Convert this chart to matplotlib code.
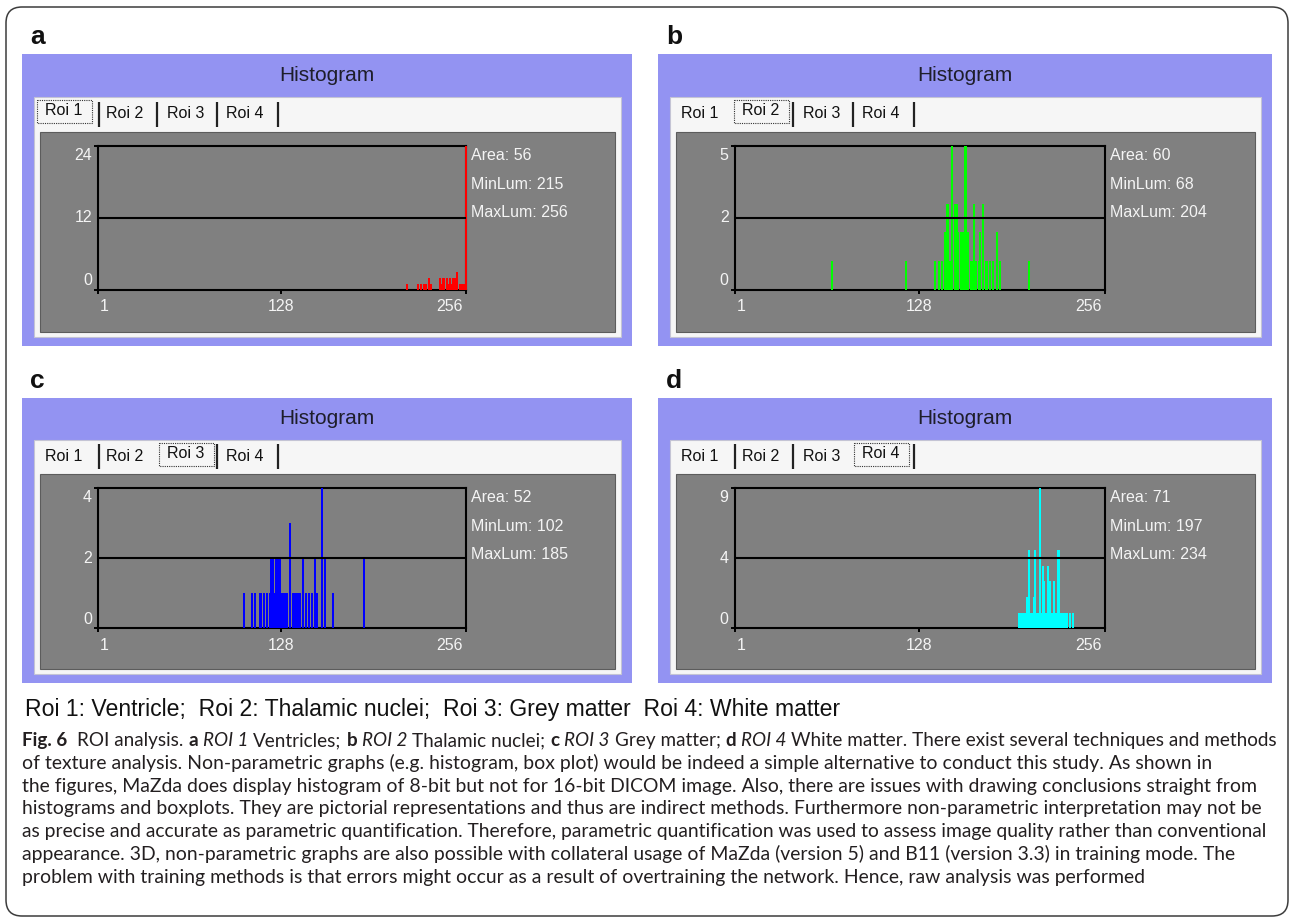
import matplotlib
matplotlib.use('Agg')
import matplotlib.pyplot as plt
from matplotlib.patches import Rectangle, FancyBboxPatch

plt.rcParams['font.family'] = ['Liberation Sans', 'DejaVu Sans']

W, H = 1290, 918

# grey level of each non-empty bin and its pixel count, one pair of lists per ROI
roi1_bins = [215, 223, 225, 227, 228, 230, 232, 238, 239, 240, 241, 243, 244,
             245, 246, 247, 248, 250, 252, 253, 254, 255, 256]
roi1_counts = [1, 1, 1, 1, 1, 2, 1, 2, 1, 2, 2, 2, 1, 2, 1, 2, 2, 3, 1, 1, 1, 1, 24]

roi2_bins = [68, 119, 139, 142, 144, 146, 147, 148, 149, 151, 153, 154, 155, 157,
             158, 160, 161, 162, 164, 165, 166, 167, 169, 170, 172, 174, 175, 177,
             179, 182, 184, 204]
roi2_counts = [1, 1, 1, 1, 1, 2, 3, 3, 1, 5, 3, 3, 2, 2, 2, 5, 2, 2, 1, 1, 3, 1,
               1, 2, 3, 1, 1, 1, 1, 2, 1, 1]

roi3_bins = [102, 108, 110, 113, 114, 116, 118, 120, 121, 122, 123, 124, 125, 126,
             127, 128, 129, 130, 131, 132, 134, 136, 137, 138, 139, 140, 141, 143,
             145, 147, 149, 151, 153, 156, 158, 164, 185]
roi3_counts = [1, 1, 1, 1, 1, 1, 1, 1, 2, 2, 1, 2, 2, 2, 2, 1, 1, 1, 1, 1, 3, 1,
               1, 1, 1, 1, 1, 2, 1, 1, 1, 2, 1, 4, 2, 1, 2]

roi4_bins = [197, 198, 199, 200, 201, 202, 203, 204, 205, 206, 207, 208, 209, 210,
             211, 212, 213, 214, 215, 216, 217, 218, 219, 220, 221, 222, 223, 224,
             225, 226, 227, 228, 229, 230, 232, 234]
roi4_counts = [1, 1, 1, 1, 1, 2, 2, 5, 1, 1, 2, 5, 1, 1, 9, 1, 4, 3, 1, 1, 4, 3,
               1, 1, 3, 1, 1, 5, 1, 1, 1, 1, 1, 1, 1, 1]

tab_names = ['Roi 1', 'Roi 2', 'Roi 3', 'Roi 4']
legend_text = 'Roi 1: Ventricle;  Roi 2: Thalamic nuclei;  Roi 3: Grey matter  Roi 4: White matter'

caption_lines = [
    [('Fig. 6', 'bold', 'normal'), ('  ROI analysis. ', 'normal', 'normal'),
     ('a', 'bold', 'normal'), (' ', 'normal', 'normal'), ('ROI 1', 'normal', 'italic'),
     (' Ventricles; ', 'normal', 'normal'),
     ('b', 'bold', 'normal'), (' ', 'normal', 'normal'), ('ROI 2', 'normal', 'italic'),
     (' Thalamic nuclei; ', 'normal', 'normal'),
     ('c', 'bold', 'normal'), (' ', 'normal', 'normal'), ('ROI 3', 'normal', 'italic'),
     (' Grey matter; ', 'normal', 'normal'),
     ('d', 'bold', 'normal'), (' ', 'normal', 'normal'), ('ROI 4', 'normal', 'italic'),
     (' White matter. There exist several techniques and methods', 'normal', 'normal')],
    [('of texture analysis. Non-parametric graphs (e.g. histogram, box plot) would be '
      'indeed a simple alternative to conduct this study. As shown in', 'normal', 'normal')],
    [('the figures, MaZda does display histogram of 8-bit but not for 16-bit DICOM image. '
      'Also, there are issues with drawing conclusions straight from', 'normal', 'normal')],
    [('histograms and boxplots. They are pictorial representations and thus are indirect '
      'methods. Furthermore non-parametric interpretation may not be', 'normal', 'normal')],
    [('as precise and accurate as parametric quantification. Therefore, parametric '
      'quantification was used to assess image quality rather than conventional', 'normal', 'normal')],
    [('appearance. 3D, non-parametric graphs are also possible with collateral usage of '
      'MaZda (version 5) and B11 (version 3.3) in training mode. The', 'normal', 'normal')],
    [('problem with training methods is that errors might occur as a result of '
      'overtraining the network. Hence, raw analysis was performed', 'normal', 'normal')],
]

FRAME_BLUE = '#9393f2'
STRIP = '#f6f6f6'
GRAY = '#808080'
LIGHT = '#f4f4f4'
INK = '#231f20'
CAPTION_FONT = 'Lato'

TAB_CENTERS = [41.7, 103, 164, 223]
TAB_SEPS = [77.4, 135, 195, 256]

fig = plt.figure(figsize=(W / 100, H / 100), dpi=100)
bg = fig.add_axes([0, 0, 1, 1])
bg.set_xlim(0, W)
bg.set_ylim(H, 0)
bg.axis('off')
renderer = fig.canvas.get_renderer()

bg.add_patch(FancyBboxPatch((6, 7), 1282, 909, boxstyle='round,pad=0,rounding_size=16',
                            facecolor='none', edgecolor='#3c3c3c', lw=1.1))


def panel(letter, box, sel, bins, counts, color):
    left, top, w, h = box
    X = lambda f: left + f * w
    Y = lambda f: top + f * h

    bg.text(left + 8, top - 17, letter, fontsize=19, fontweight='bold',
            ha='left', va='center', color='#111111')
    bg.add_patch(Rectangle((left, top), w, h, facecolor=FRAME_BLUE, edgecolor='none'))
    bg.text(X(0.5), Y(0.072), 'Histogram', fontsize=15, ha='center', va='center',
            color='#1e1e2a')
    bg.add_patch(Rectangle((X(0.0197), Y(0.147)), X(0.982) - X(0.0197), Y(0.969) - Y(0.147),
                           facecolor=STRIP, edgecolor='#c4c4d4', lw=0.8))
    bg.add_patch(Rectangle((X(0.0295), Y(0.267)), X(0.972) - X(0.0295), Y(0.952) - Y(0.267),
                           facecolor=GRAY, edgecolor='#5c5c5c', lw=0.8))

    # tab strip
    for i, name in enumerate(tab_names):
        cx = left + TAB_CENTERS[i]
        dy = -3 if i == sel else 0
        bg.text(cx, Y(0.205) + dy, name, fontsize=11.5, ha='center', va='center',
                color='#111111')
        if i == sel:
            bg.add_patch(Rectangle((cx - 27, Y(0.158)), 55, Y(0.238) - Y(0.158), fill=False,
                                   ls=(0, (1, 1)), lw=0.8, ec='#333333'))
        if i != sel - 1:
            sx = left + TAB_SEPS[i]
            bg.plot([sx, sx], [Y(0.163), Y(0.25)], color='#222222', lw=1.6,
                    solid_capstyle='butt')

    # histogram axes
    x0, x1 = X(0.1246), X(0.728)
    y0, y1 = Y(0.315), Y(0.808)
    ax = fig.add_axes([x0 / W, 1 - y1 / H, (x1 - x0) / W, (y1 - y0) / H])
    ax.set_facecolor(GRAY)
    ymax = max(counts)
    ax.bar(bins, counts, width=1.4, color=color, linewidth=0, zorder=3,
           antialiased=False, clip_on=False)
    ax.axhline(ymax / 2, color='k', lw=1.5, zorder=4)
    ax.set_xlim(1, 256)
    ax.set_ylim(0, ymax)
    ax.set_xticks([1, 128, 256])
    ax.set_yticks([0, ymax])
    ax.tick_params(length=3, width=1.4, color='k', labelbottom=False, labelleft=False)
    for s in ax.spines.values():
        s.set_linewidth(1.5)
        s.set_color('k')

    lab = dict(fontsize=11.5, color=LIGHT, textcoords='offset pixels', annotation_clip=False)
    for v, ha, dx in ((1, 'left', 2), (128, 'center', 0), (256, 'right', -3)):
        ax.annotate(str(v), xy=(v, 0), xycoords=('data', 'axes fraction'),
                    xytext=(dx, -17), ha=ha, va='center', **lab)
    ax.annotate(str(ymax), xy=(0, 1), xycoords='axes fraction', xytext=(-6, -10),
                ha='right', va='center', **lab)
    ax.annotate(str(ymax // 2), xy=(0, 0.5), xycoords='axes fraction', xytext=(-6, 0),
                ha='right', va='center', **lab)
    ax.annotate('0', xy=(0, 0), xycoords='axes fraction', xytext=(-6, 9),
                ha='right', va='center', **lab)

    info = [f'Area: {sum(counts)}', f'MinLum: {min(bins)}', f'MaxLum: {max(bins)}']
    for k, s in enumerate(info):
        ax.annotate(s, xy=(1, 1), xycoords='axes fraction', xytext=(5, -10 - 28.5 * k),
                    ha='left', va='center', **lab)


panel('a', (22, 54, 610, 292), 0, roi1_bins, roi1_counts, '#ff0000')
panel('b', (658, 54, 614, 292), 1, roi2_bins, roi2_counts, '#00ff00')
panel('c', (22, 398, 610, 285), 2, roi3_bins, roi3_counts, '#0000ff')
panel('d', (658, 398, 614, 285), 3, roi4_bins, roi4_counts, '#00ffff')


def text_width(s, size, family, weight='normal', style='normal'):
    t = bg.text(0, 0, s, fontsize=size, family=family, fontweight=weight, fontstyle=style)
    w = t.get_window_extent(renderer).width
    t.remove()
    return w


def advance(s, size, wgt, sty):
    # width a run takes on the line, spaces included
    return (text_width('|' + s + '|', size, CAPTION_FONT, wgt, sty)
            - text_width('||', size, CAPTION_FONT, wgt, sty))


def line_width(runs, size):
    return sum(advance(s, size, wgt, sty) for s, wgt, sty in runs)


def draw_runs(runs, x, y, size):
    for s, wgt, sty in runs:
        core = s.strip(' ')
        lead = len(s) - len(s.lstrip(' '))
        if core:
            xs = x + (advance(' ' * lead, size, wgt, sty) if lead else 0)
            bg.text(xs, y, core, fontsize=size, family=CAPTION_FONT, fontweight=wgt,
                    fontstyle=sty, ha='left', va='baseline', color=INK)
        x += advance(s, size, wgt, sty)


# legend line, sized to its run across the page
leg_size = 14 * 821 / text_width(legend_text, 14, 'Liberation Sans')
bg.text(25, 716, legend_text, fontsize=leg_size, family='Liberation Sans',
        ha='left', va='baseline', color='#111111')

# caption block: one size for all lines, shrunk only where a line would run past the margin
plain = caption_lines[4][0][0]
cap_size = 11 * 1250 / text_width(plain, 11, CAPTION_FONT)
max_width = 1252
for i, runs in enumerate(caption_lines):
    size = cap_size
    lw = line_width(runs, size)
    if lw > max_width:
        size = size * max_width / lw
    draw_runs(runs, 22, 746 + 22.8 * i, size)

fig.savefig('out.png', dpi=100)
